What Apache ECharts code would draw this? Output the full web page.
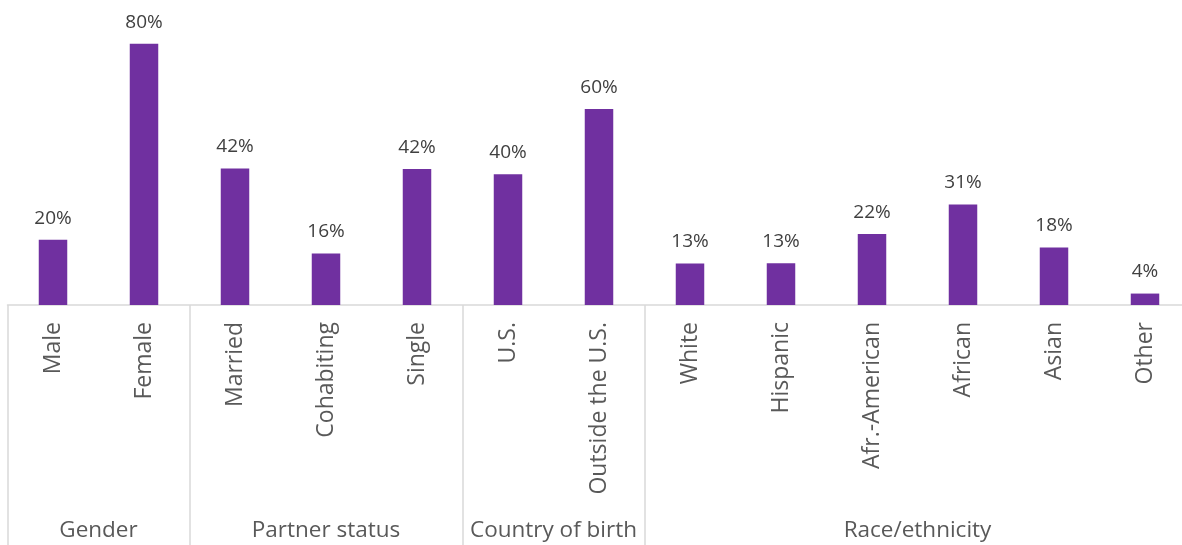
<!DOCTYPE html>
<html>
<head>
<meta charset="utf-8">
<script src="https://cdn.jsdelivr.net/npm/echarts@6/dist/echarts.min.js"></script>
<style>
  html, body { margin: 0; padding: 0; background: #ffffff; overflow: hidden; }
  #chart { width: 1191px; height: 545px; }
</style>
</head>
<body>
<div id="chart"></div>
<script>
const categories = ['Male', 'Female', 'Married', 'Cohabiting', 'Single', 'U.S.', 'Outside the U.S.',
  'White', 'Hispanic', 'Afr.-American', 'African', 'Asian', 'Other'];
const values = [20, 80, 41.8, 15.8, 41.6, 40, 60, 12.7, 12.8, 21.7, 30.8, 17.6, 3.5];
const groupNames = ['Gender', 'Partner status', 'Country of birth', 'Race/ethnicity'];
const groupSizes = [2, 3, 2, 6];

// group boundaries and centres in category units
const groupBounds = [0];
const groupCenters = [];
groupSizes.forEach(function (n) {
  const start = groupBounds[groupBounds.length - 1];
  groupCenters.push(start + n / 2);
  groupBounds.push(start + n);
});

const chart = echarts.init(document.getElementById('chart'));
const font = '"Open Sans", "DejaVu Sans", sans-serif';

chart.setOption({
  animation: false,
  backgroundColor: '#ffffff',
  grid: { left: 7.5, top: 11, right: 0.5, bottom: 240, containLabel: false },
  xAxis: [
    {
      type: 'category',
      data: categories,
      position: 'bottom',
      axisLine: { show: true, lineStyle: { color: '#D9D9D9', width: 1.5 } },
      axisTick: { show: false },
      axisLabel: {
        rotate: 90,
        interval: 0,
        margin: 17,
        fontFamily: font,
        fontSize: 23,
        color: '#595959'
      },
      splitLine: { show: false }
    },
    {
      type: 'value',
      min: 0,
      max: categories.length,
      position: 'bottom',
      axisLine: { show: false },
      axisTick: {
        show: true,
        customValues: groupBounds,
        length: 240,
        inside: false,
        lineStyle: { color: '#D9D9D9', width: 1.5 }
      },
      axisLabel: {
        customValues: groupCenters,
        margin: 214,
        fontFamily: font,
        fontSize: 22.5,
        color: '#595959',
        formatter: function (v) {
          const i = groupCenters.indexOf(v);
          return i >= 0 ? groupNames[i] : '';
        }
      },
      splitLine: { show: false }
    }
  ],
  yAxis: {
    type: 'value',
    min: 0,
    max: 90,
    show: false,
    splitLine: { show: false }
  },
  series: [
    {
      type: 'bar',
      xAxisIndex: 0,
      data: values,
      barWidth: 28.5,
      itemStyle: { color: '#7030A0' },
      label: {
        show: true,
        position: 'top',
        distance: 12,
        fontFamily: font,
        fontSize: 19,
        color: '#404040',
        formatter: function (p) { return Math.round(p.value) + '%'; }
      }
    }
  ]
});
</script>
</body>
</html>
